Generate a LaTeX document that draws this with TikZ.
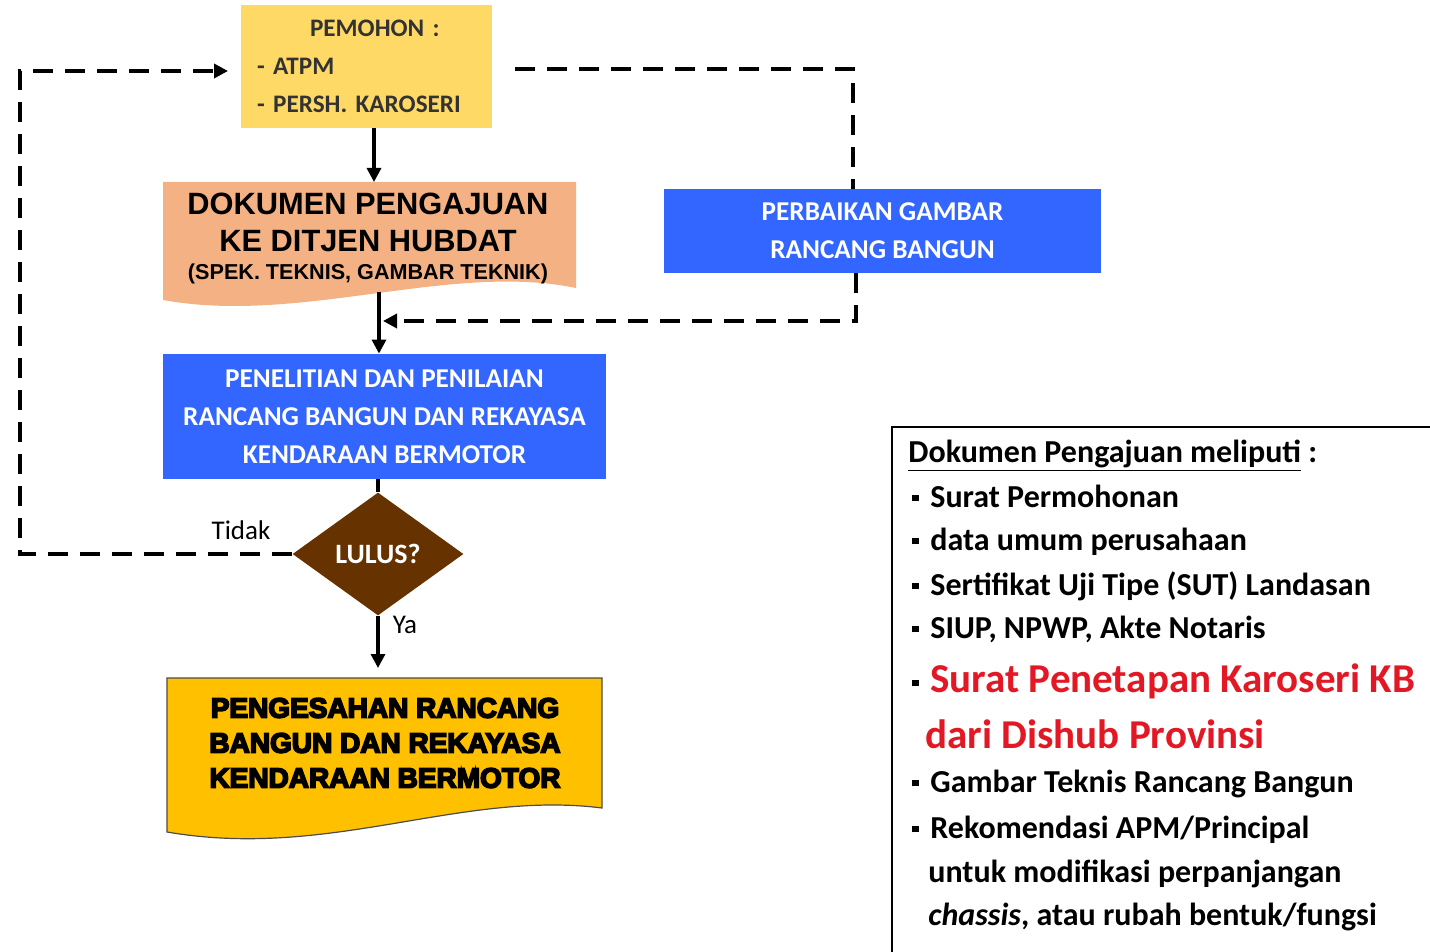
\documentclass[tikz,border=0pt]{standalone}
\usepackage{fontspec}
\setmainfont{Carlito}
\newfontfamily\arialfont{Liberation Sans}
\newfontfamily\heavyfont[FakeBold=6]{Liberation Sans Bold}
\usetikzlibrary{arrows.meta,shapes.geometric}

\definecolor{pemohonyellow}{RGB}{255,217,102}
\definecolor{dokorange}{RGB}{244,177,131}
\definecolor{boxblue}{RGB}{51,102,255}
\definecolor{lulusbrown}{RGB}{102,51,0}
\definecolor{sahgold}{RGB}{255,192,0}
\definecolor{redtext}{RGB}{226,24,36}

\newcommand{\sqbullet}{\makebox[9pt][l]{\raisebox{2.8pt}{\rule{3.2pt}{3.2pt}}}}

\begin{document}
\begin{tikzpicture}[x=0.5pt,y=-0.5pt,
        arrowline/.style={-{Triangle[length=7pt,width=7pt]},line width=1.6pt},
        dashline/.style={line width=2pt,dash pattern=on 10pt off 6pt},
        bluebox/.style={fill=boxblue,text=white,align=center,inner sep=0pt,
                font=\bfseries\fontsize{13.6}{19}\selectfont},
        listitem/.style={anchor=base west,inner sep=0pt,
                font=\bfseries\fontsize{16}{18}\selectfont}]
        \useasboundingbox (0,0) rectangle (1430,952);
        \clip (0,0) rectangle (1430,952);

        % pemohon
        \node[fill=pemohonyellow,minimum width=125.5pt,minimum height=61.5pt,inner xsep=8pt,
                text width=109.5pt,align=left,text=black!80,font=\bfseries\fontsize{12.6}{19}\selectfont]
                (pemohon) at (366.5,66.5) {\hspace*{26.5pt}PEMOHON :\\- ATPM\\- PERSH. KAROSERI};

        % dokumen pengajuan
        \fill[dokorange] (163,182) -- (576,182) -- (576,288) .. controls (450,262) and (300,325) .. (163,300) -- cycle;
        \node[align=center,inner sep=0pt,font=\arialfont\bfseries\fontsize{15.4}{18.5}\selectfont] (dokumen) at (368,238)
                {DOKUMEN PENGAJUAN\\ KE DITJEN HUBDAT\\[-4.5pt]
                {\fontsize{10.8}{15.5}\selectfont (SPEK. TEKNIS, GAMBAR TEKNIK)}};

        \node[bluebox,minimum width=221.5pt,minimum height=62.5pt] (penelitian) at (384.5,416.5)
                {PENELITIAN DAN PENILAIAN\\RANCANG BANGUN DAN REKAYASA\\KENDARAAN BERMOTOR};
        \node[bluebox,minimum width=218.5pt,minimum height=42pt] (perbaikan) at (882.5,231)
                {PERBAIKAN GAMBAR\\RANCANG BANGUN};

        \node[diamond,fill=lulusbrown,minimum width=85.5pt,minimum height=61.5pt,inner sep=0pt,
                text=white,font=\bfseries\fontsize{14}{16}\selectfont] (lulus) at (378,554) {LULUS?};

        % pengesahan
        \filldraw[fill=sahgold,draw=black!70,line width=0.6pt] (167,678) -- (602,678) -- (602,808)
                .. controls (460,790) and (330,860) .. (167,832) -- cycle;
        \node[align=center,inner sep=0pt,font=\heavyfont\fontsize{14}{17.5}\selectfont] (pengesahan) at (385,743)
                {PENGESAHAN RANCANG\\BANGUN DAN REKAYASA\\KENDARAAN BERMOTOR};

        % connectors
        \coordinate (dokin) at (374,182);
        \coordinate (dokout) at (379,292);
        \draw[arrowline] (pemohon.south -| dokin) -- (dokin);
        \draw[arrowline] (dokout) -- (dokout |- penelitian.north);
        \draw[line width=1.6pt] (penelitian.south -| lulus) -- (lulus.north);
        \coordinate (sahin) at (378,668);
        \draw[arrowline] (lulus.south) -- (sahin);

        \coordinate (fixstart) at (515,69);
        \coordinate (fixcorner) at (853,69);
        \draw[dashline] (fixstart) -- (fixcorner) -- (fixcorner |- perbaikan.north);
        \coordinate (backcorner) at (856,321);
        \draw[dashline,-{Triangle[length=7pt,width=7pt]}] (backcorner |- perbaikan.south) -- (backcorner)
                -- ([xshift=2pt]dokout |- backcorner);

        \coordinate (retcorner) at (20,554);
        \coordinate (retend) at (228,71);
        \draw[dashline,-{Triangle[length=7pt,width=7pt]}] (lulus.west) -- (retcorner) -- (retcorner |- retend) -- (retend);

        \node[inner sep=0pt,font=\fontsize{13.5}{15}\selectfont] (tidak) at (241,530) {Tidak};
        \node[inner sep=0pt,font=\fontsize{13.5}{15}\selectfont] (ya) at (405,625) {Ya};

        % dokumen list
        \draw[line width=0.8pt] (892,427) rectangle (1450,970);
        \node[listitem] (judul) at (908,462) {\underline{Dokumen Pengajuan meliputi} :};
        \node[listitem] (item1) at (912,507) {\sqbullet Surat Permohonan};
        \node[listitem] (item2) at (912,550) {\sqbullet data umum perusahaan};
        \node[listitem] (item3) at (912,595) {\sqbullet Sertifikat Uji Tipe (SUT) Landasan};
        \node[listitem] (item4) at (912,638) {\sqbullet SIUP, NPWP, Akte Notaris};
        \node[listitem] (item5) at (912,692) {\sqbullet\textcolor{redtext}{\fontsize{20.5}{22}\selectfont Surat Penetapan Karoseri KB}};
        \node[listitem,text=redtext,font=\bfseries\fontsize{20.5}{22}\selectfont] (item5b) at (925,748) {dari Dishub Provinsi};
        \node[listitem] (item6) at (912,792) {\sqbullet Gambar Teknis Rancang Bangun};
        \node[listitem] (item7) at (912,838) {\sqbullet Rekomendasi APM/Principal};
        \node[listitem] (item7b) at (928,882) {untuk modifikasi perpanjangan};
        \node[listitem] (item7c) at (928,925) {\textit{chassis}, atau rubah bentuk/fungsi};
\end{tikzpicture}
\end{document}
